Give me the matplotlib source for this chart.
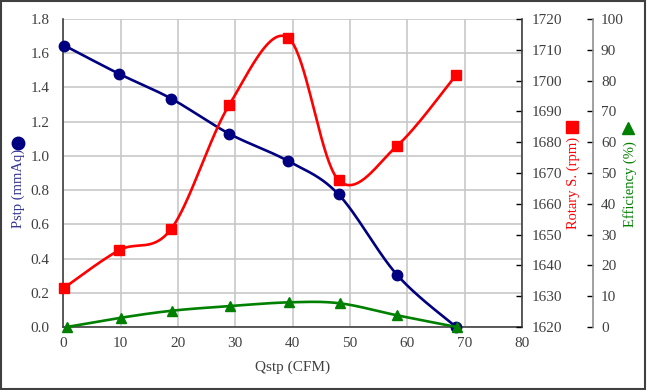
import numpy as np
import matplotlib
matplotlib.use("Agg")
import matplotlib.pyplot as plt
from matplotlib.lines import Line2D
from matplotlib.patches import Rectangle

plt.rcParams['font.family'] = ['Liberation Serif', 'DejaVu Serif']

# ---- data ----
qstp = [0.2, 9.7, 18.8, 28.9, 39.2, 48.0, 58.2, 68.5]
pstp = [1.645, 1.48, 1.335, 1.13, 0.97, 0.775, 0.305, 0.0]
rpm = [1632.8, 1644.9, 1651.8, 1692.0, 1713.9, 1667.7, 1678.8, 1701.8]
qstp_eff = [0.6, 10.0, 19.0, 29.1, 39.3, 48.2, 58.2, 68.6]
eff = [0.0, 3.0, 5.3, 6.8, 8.0, 7.7, 3.8, 0.0]

x_ticks = [0, 10, 20, 30, 40, 50, 60, 70, 80]
p_ticks = [0.0, 0.2, 0.4, 0.6, 0.8, 1.0, 1.2, 1.4, 1.6, 1.8]
r_ticks = [1620, 1630, 1640, 1650, 1660, 1670, 1680, 1690, 1700, 1710, 1720]
e_ticks = [0, 10, 20, 30, 40, 50, 60, 70, 80, 90, 100]

NAVY = '#000080'
RED = '#FF0000'
GREEN = '#008000'

W, H = 647, 390
fig = plt.figure(figsize=(W / 100, H / 100), dpi=100)
L, R, T, B = 63.3, 522, 19, 327
ax = fig.add_axes([L / W, 1 - B / H, (R - L) / W, (B - T) / H])
ax2 = ax.twinx()
ax3 = ax.twinx()


def smooth(ax_, xs, ys, n=40):
    """Excel-like smoothed line (Catmull-Rom Bezier) computed in display space."""
    pts = ax_.transData.transform(np.column_stack([xs, ys]))
    P = np.vstack([pts[0], pts, pts[-1]])
    out = []
    t = np.linspace(0, 1, n)[:, None]
    for i in range(1, len(P) - 2):
        p0, p1, p2, p3 = P[i - 1], P[i], P[i + 1], P[i + 2]
        c1 = p1 + (p2 - p0) / 6
        c2 = p2 - (p3 - p1) / 6
        seg = ((1 - t) ** 3) * p1 + 3 * ((1 - t) ** 2) * t * c1 + 3 * (1 - t) * t ** 2 * c2 + t ** 3 * p2
        out.append(seg if i == 1 else seg[1:])
    out = np.vstack(out)
    d = ax_.transData.inverted().transform(out)
    return d[:, 0], d[:, 1]


ax.set_xlim(0, 80)
ax.set_ylim(0, 1.8)
ax2.set_ylim(1620, 1720)
ax3.set_ylim(0, 100)
for a in (ax2, ax3):
    a.set_xlim(0, 80)

ax.set_xticks(x_ticks)
ax.set_xticklabels([str(v) for v in x_ticks])
ax.set_yticks(p_ticks)
ax.set_yticklabels([f"{v:.1f}" for v in p_ticks])
ax2.set_yticks(r_ticks)
ax2.set_yticklabels([str(v) for v in r_ticks])
ax3.set_yticks(e_ticks)
ax3.set_yticklabels([str(v) for v in e_ticks])

ax.grid(True, color='#C8C8C8', linewidth=1.2)
ax.set_axisbelow(True)

for a in (ax, ax2, ax3):
    for s in a.spines.values():
        s.set_visible(False)
ax.spines['left'].set_visible(True)
ax.spines['bottom'].set_visible(True)
ax.spines['left'].set_color('#404040')
ax.spines['bottom'].set_color('#404040')
ax2.spines['right'].set_visible(True)
ax2.spines['right'].set_color('#404040')
ax3.spines['right'].set_visible(True)
ax3.spines['right'].set_position(('axes', 1.154))
ax3.spines['right'].set_color('#909090')
for a in (ax, ax2, ax3):
    for s in a.spines.values():
        s.set_linewidth(1.2)

fs = 11
ax.tick_params(axis='y', length=0, pad=10, labelsize=fs, labelcolor='#404040')
ax.tick_params(axis='x', length=0, pad=7, labelsize=fs, labelcolor='#404040')
ax2.tick_params(axis='y', direction='in', length=4, width=1, pad=7, labelsize=fs, labelcolor='#404040')
ax3.tick_params(axis='y', direction='in', length=4, width=1, pad=6, labelsize=fs, labelcolor='#404040')

fig.canvas.draw()

sx, sy = smooth(ax, qstp, pstp)
ax.plot(sx, sy, color=NAVY, lw=1.9, zorder=3)
ax.plot(qstp, pstp, 'o', color=NAVY, ms=7.5, zorder=4, clip_on=False)

sx, sy = smooth(ax2, qstp, rpm)
ax2.plot(sx, sy, color=RED, lw=1.9, zorder=3)
ax2.plot(qstp, rpm, 's', color=RED, ms=7.5, zorder=4, clip_on=False)

sx, sy = smooth(ax3, qstp_eff, eff)
ax3.plot(sx, sy, color=GREEN, lw=1.9, zorder=3, clip_on=False)
ax3.plot(qstp_eff, eff, '^', color=GREEN, ms=7.5, zorder=4, clip_on=False)

ax.set_xlabel('Qstp (CFM)', fontsize=fs, color='#404040', labelpad=8)

# axis titles with marker symbols
fig.text(18 / W, 1 - 188 / H, 'Pstp (mmAq)', rotation=90, ha='center', va='center',
         fontsize=10.5, color='#333399')
fig.add_artist(Line2D([18 / W], [1 - 143 / H], marker='o', color=NAVY, ms=9,
                      transform=fig.transFigure))
fig.text(573 / W, 1 - 183 / H, 'Rotary S. (rpm)', rotation=90, ha='center', va='center',
         fontsize=10.5, color=RED)
fig.add_artist(Line2D([572 / W], [1 - 127 / H], marker='s', color=RED, ms=9,
                      transform=fig.transFigure))
fig.text(630 / W, 1 - 184 / H, 'Efficiency (%)', rotation=90, ha='center', va='center',
         fontsize=10.5, color=GREEN)
fig.add_artist(Line2D([628 / W], [1 - 128 / H], marker='^', color=GREEN, ms=9,
                      transform=fig.transFigure))

fig.add_artist(Rectangle((0.0015, 0.0025), 0.996, 0.994, fill=False, edgecolor='#404040',
                         linewidth=1.5, transform=fig.transFigure))

fig.savefig('out.png', dpi=100)
